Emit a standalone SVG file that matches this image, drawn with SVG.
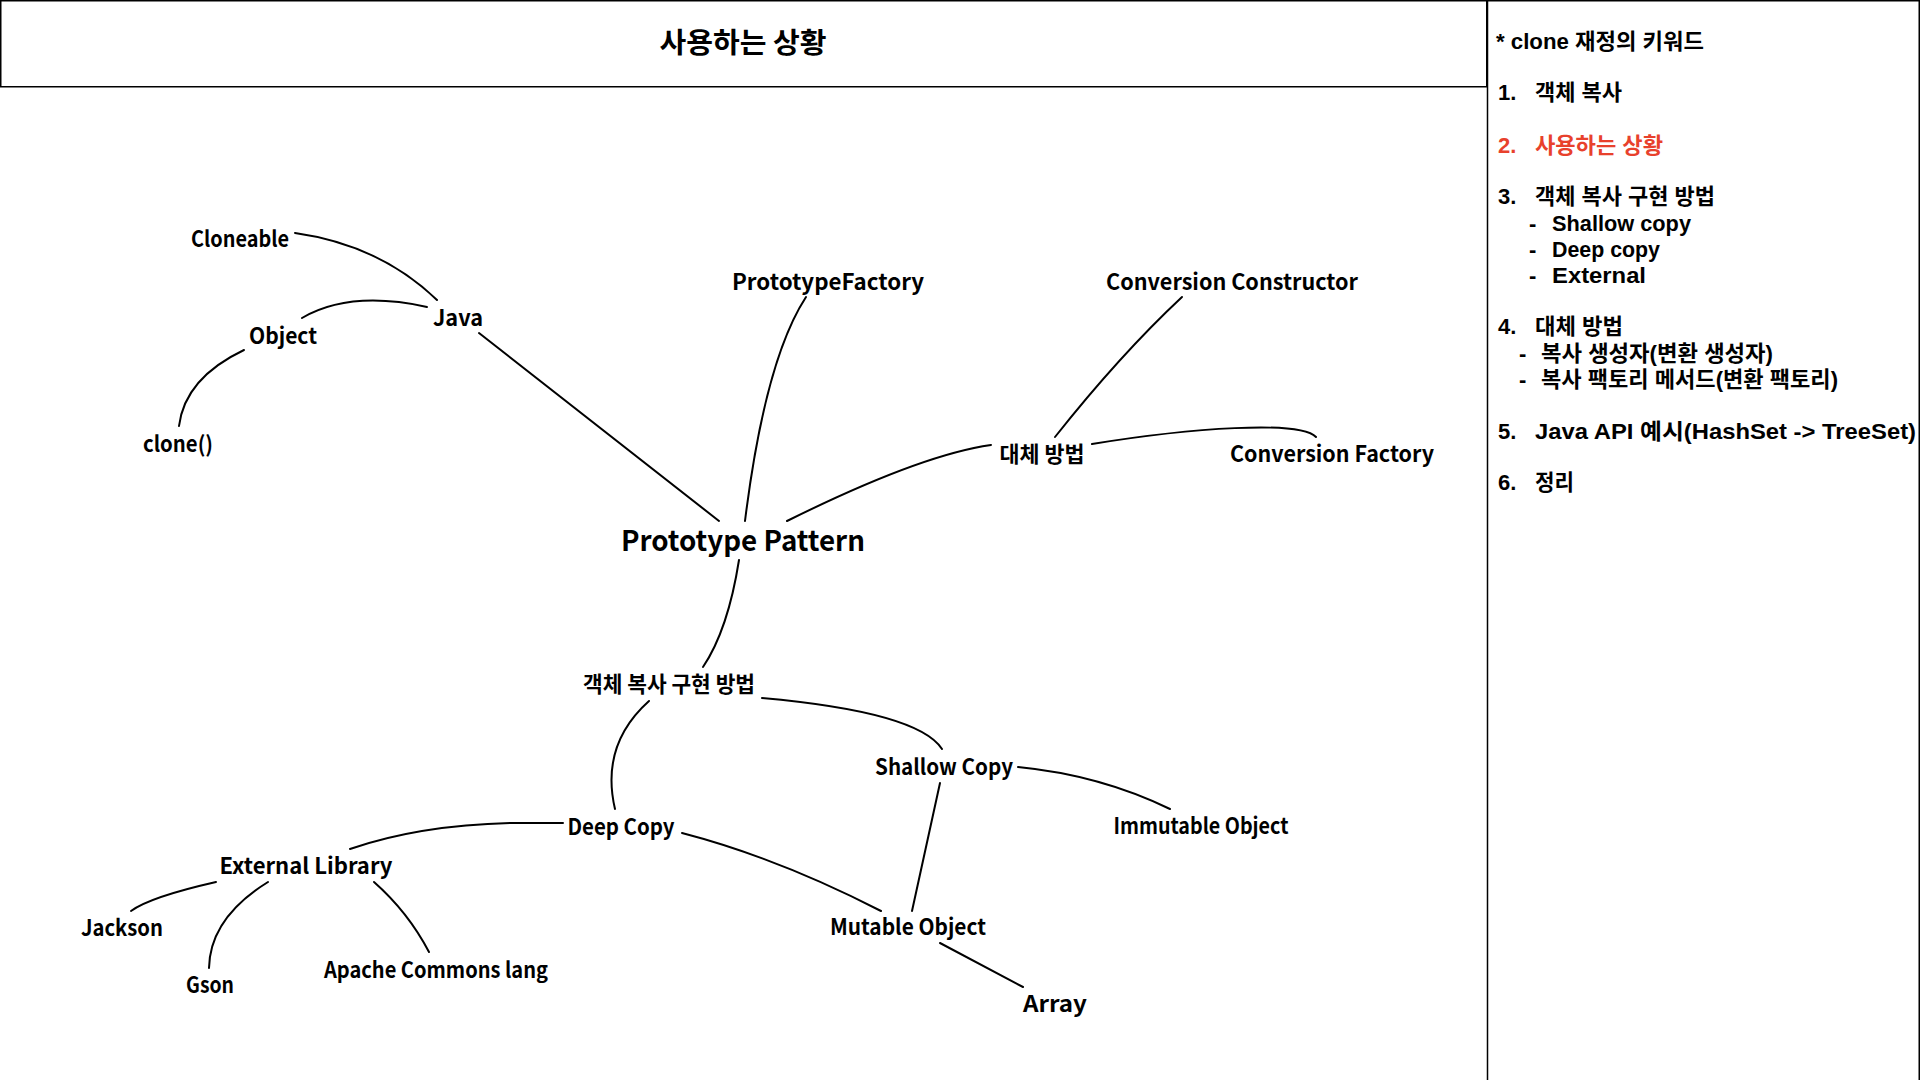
<svg xmlns="http://www.w3.org/2000/svg" width="1920" height="1080" viewBox="0 0 1920 1080">
<style>
text{font-family:"Noto Sans CJK KR","Noto Sans",sans-serif;font-weight:700;fill:#000}
.n{font-size:22px;text-anchor:middle}
.s{font-size:22px;font-family:"Liberation Sans","Noto Sans CJK KR",sans-serif}
.red{fill:#e8412c}
.c path{fill:none;stroke:#000;stroke-width:2;stroke-linecap:round}
.frame{fill:none;stroke:#000;stroke-width:1.5}
</style>
<rect width="1920" height="1080" fill="#fff"/>
<g id="header">
<rect class="frame" x="0.75" y="0.75" width="1486" height="86"/>
<text x="743" y="53" style="font-size:28px;text-anchor:middle" textLength="167" lengthAdjust="spacingAndGlyphs">사용하는 상황</text>
</g>
<g id="sidebar">
<path class="frame" d="M1487.5,0 V1080 M1487.5,0.75 H1919.25 V1080"/>
<text class="s" x="1496" y="49" textLength="208" lengthAdjust="spacingAndGlyphs">* clone 재정의 키워드</text>
<text class="s" x="1498" y="100">1.</text>
<text class="s" x="1535" y="100" textLength="87" lengthAdjust="spacingAndGlyphs">객체 복사</text>
<text class="s red" x="1498" y="153">2.</text>
<text class="s red" x="1535" y="153" textLength="128" lengthAdjust="spacingAndGlyphs">사용하는 상황</text>
<text class="s" x="1498" y="204">3.</text>
<text class="s" x="1535" y="204" textLength="180" lengthAdjust="spacingAndGlyphs">객체 복사 구현 방법</text>
<text class="s" x="1529" y="231">-</text>
<text class="s" x="1552" y="231" textLength="139" lengthAdjust="spacingAndGlyphs">Shallow copy</text>
<text class="s" x="1529" y="257">-</text>
<text class="s" x="1552" y="257" textLength="108" lengthAdjust="spacingAndGlyphs">Deep copy</text>
<text class="s" x="1529" y="283">-</text>
<text class="s" x="1552" y="283" textLength="94" lengthAdjust="spacingAndGlyphs">External</text>
<text class="s" x="1498" y="334">4.</text>
<text class="s" x="1535" y="334" textLength="88" lengthAdjust="spacingAndGlyphs">대체 방법</text>
<text class="s" x="1519" y="361">-</text>
<text class="s" x="1541" y="361" textLength="232" lengthAdjust="spacingAndGlyphs">복사 생성자(변환 생성자)</text>
<text class="s" x="1519" y="387">-</text>
<text class="s" x="1541" y="387" textLength="297" lengthAdjust="spacingAndGlyphs">복사 팩토리 메서드(변환 팩토리)</text>
<text class="s" x="1498" y="439">5.</text>
<text class="s" x="1535" y="439" textLength="381" lengthAdjust="spacingAndGlyphs">Java API 예시(HashSet -&gt; TreeSet)</text>
<text class="s" x="1498" y="490">6.</text>
<text class="s" x="1535" y="490" textLength="39" lengthAdjust="spacingAndGlyphs">정리</text>
</g>
<g id="connectors" class="c">
<path d="M295,233 Q380,245 437,300"/>
<path d="M302,318 Q350,290 427,307"/>
<path d="M244,350 Q185,378 179,426"/>
<path d="M479,333 L719,521"/>
<path d="M806,297 Q765,360 745,521"/>
<path d="M1182,297 Q1120,355 1055,437"/>
<path d="M1092,444 C1190,428 1300,420 1316,437"/>
<path d="M991,445 Q920,455 787,521"/>
<path d="M739,560 Q728,630 703,667"/>
<path d="M762,698 Q918,712 942,749"/>
<path d="M649,701 Q600,745 615,809"/>
<path d="M1018,767 Q1100,775 1170,809"/>
<path d="M940,783 L912,911"/>
<path d="M682,833 Q778,858 881,911"/>
<path d="M940,943 L1023,987"/>
<path d="M563,823 L512,823 Q420,825 350,849"/>
<path d="M216,882 Q150,897 131,911"/>
<path d="M268,882 Q210,918 209,968"/>
<path d="M374,882 Q408,912 429,952"/>
</g>
<g id="node-prototype-pattern"><text x="743" y="551" style="font-size:28px;text-anchor:middle" textLength="244" lengthAdjust="spacingAndGlyphs">Prototype Pattern</text></g>
<g id="node-cloneable"><text class="n" x="240" y="247" textLength="98" lengthAdjust="spacingAndGlyphs">Cloneable</text></g>
<g id="node-java"><text class="n" x="458" y="326" textLength="50" lengthAdjust="spacingAndGlyphs">Java</text></g>
<g id="node-object"><text class="n" x="283" y="344" textLength="68" lengthAdjust="spacingAndGlyphs">Object</text></g>
<g id="node-clone"><text class="n" x="178" y="452" textLength="70" lengthAdjust="spacingAndGlyphs">clone()</text></g>
<g id="node-prototypefactory"><text class="n" x="828" y="290" textLength="192" lengthAdjust="spacingAndGlyphs">PrototypeFactory</text></g>
<g id="node-conversion-constructor"><text class="n" x="1232" y="290" textLength="252" lengthAdjust="spacingAndGlyphs">Conversion Constructor</text></g>
<g id="node-alternative"><text class="n" x="1042" y="462" textLength="85" lengthAdjust="spacingAndGlyphs">대체 방법</text></g>
<g id="node-conversion-factory"><text class="n" x="1332" y="462" textLength="204" lengthAdjust="spacingAndGlyphs">Conversion Factory</text></g>
<g id="node-copy-impl"><text class="n" x="669" y="692" textLength="172" lengthAdjust="spacingAndGlyphs">객체 복사 구현 방법</text></g>
<g id="node-shallow-copy"><text class="n" x="944" y="775" textLength="138" lengthAdjust="spacingAndGlyphs">Shallow Copy</text></g>
<g id="node-immutable"><text class="n" x="1201" y="834" textLength="175" lengthAdjust="spacingAndGlyphs">Immutable Object</text></g>
<g id="node-deep-copy"><text class="n" x="621" y="835" textLength="107" lengthAdjust="spacingAndGlyphs">Deep Copy</text></g>
<g id="node-mutable"><text class="n" x="908" y="935" textLength="156" lengthAdjust="spacingAndGlyphs">Mutable Object</text></g>
<g id="node-array"><text class="n" x="1055" y="1012" textLength="64" lengthAdjust="spacingAndGlyphs">Array</text></g>
<g id="node-external-library"><text class="n" x="306" y="874" textLength="173" lengthAdjust="spacingAndGlyphs">External Library</text></g>
<g id="node-jackson"><text class="n" x="122" y="936" textLength="82" lengthAdjust="spacingAndGlyphs">Jackson</text></g>
<g id="node-gson"><text class="n" x="210" y="993" textLength="48" lengthAdjust="spacingAndGlyphs">Gson</text></g>
<g id="node-apache"><text class="n" x="436" y="978" textLength="224" lengthAdjust="spacingAndGlyphs">Apache Commons lang</text></g>
</svg>
